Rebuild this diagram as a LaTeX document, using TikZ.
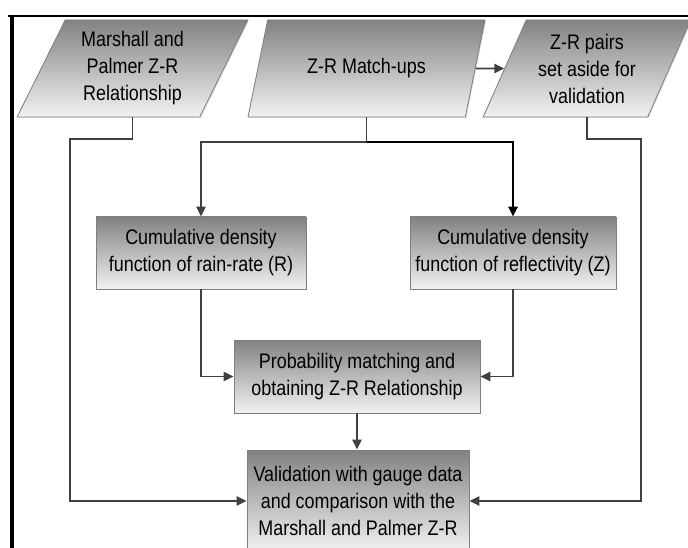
\documentclass[tikz,border=0pt]{standalone}
\usepackage{fontspec}
\setmainfont[FakeStretch=0.85]{Liberation Sans}
\usetikzlibrary{shapes.geometric, calc, arrows.meta, positioning, shadows}
\definecolor{linegray}{HTML}{404040}
\definecolor{edgegray}{HTML}{7F7F7F}
\definecolor{shadetop}{HTML}{828282}
\definecolor{shadebot}{HTML}{F2F2F2}

\begin{document}
\begin{tikzpicture}[
        font=\fontsize{15}{19.2}\selectfont,
        boxlook/.style={draw=edgegray, line width=0.6pt, top color=shadetop, bottom color=shadebot,
            drop shadow={shadow xshift=0.8pt, shadow yshift=-0.8pt, fill=gray!40}},
        procbox/.style={rectangle, boxlook, align=center, inner sep=2pt},
        iobox/.style={trapezium, trapezium left angle=64, trapezium right angle=116,
            trapezium stretches=true, boxlook, align=center, inner sep=2pt, minimum height=2.425cm},
        flow/.style={linegray, line width=1.2pt, -{Triangle[length=7pt,width=6.5pt]}},
        flowdark/.style={black, line width=1.5pt, -{Triangle[length=7pt,width=6.5pt]}},
    ]
    \useasboundingbox (0,0) rectangle (17.2,13.675);
    \clip (0,0) rectangle (17.2,13.675);

    % frame
    \draw[line width=2pt] (0.2,13.275) -- (17.3,13.275);
    \draw[line width=2.8pt] (0.3,13.3) -- (0.3,-0.1);

    % inputs
    \node[iobox, minimum width=5.775cm] (mp) at (3.3125,11.9625) {Marshall and\\Palmer Z-R\\Relationship};
    \node[iobox, minimum width=5.925cm] (match) at (9.1625,11.9625) {Z-R Match-ups};
    \node[iobox, minimum width=5.2cm] (pairs) at (14.675,11.9625) {Z-R pairs\\set aside for\\validation};

    % processing steps
    \node[procbox, minimum width=5.25cm, minimum height=1.8cm] (cdfr) at (5.025,7.35) {Cumulative density\\function of rain-rate (R)};
    \node[procbox, minimum width=5.15cm, minimum height=1.8cm] (cdfz) at (12.825,7.35) {Cumulative density\\function of reflectivity (Z)};
    \node[procbox, minimum width=6.15cm, minimum height=1.825cm] (prob) at (8.925,4.2625) {Probability matching and\\obtaining Z-R Relationship};
    \node[procbox, minimum width=5.55cm, minimum height=2.55cm] (valid) at (8.95,1.15) {Validation with gauge data\\and comparison with the\\Marshall and Palmer Z-R};

    % connectors
    \coordinate (fork) at (match.south |- 0,10.125);
    \coordinate (lbend) at (1.75,10.2);
    \coordinate (rbend) at (16.025,10.2);
    \draw[flow] (match.east) -- (pairs.west);
    \draw[flow] (match.south) -- (fork) -| (cdfr.north);
    \draw[flowdark] (fork) -| (cdfz.north);
    \draw[flow] (cdfr.south) |- (prob.west);
    \draw[flow] (cdfz.south) |- (prob.east);
    \draw[flow] (prob.south) -- (prob.south |- valid.north);
    \draw[flow] (mp.south) |- (lbend) |- (valid.west);
    \draw[flow] (pairs.south) |- (rbend) |- (valid.east);
\end{tikzpicture}
\end{document}
